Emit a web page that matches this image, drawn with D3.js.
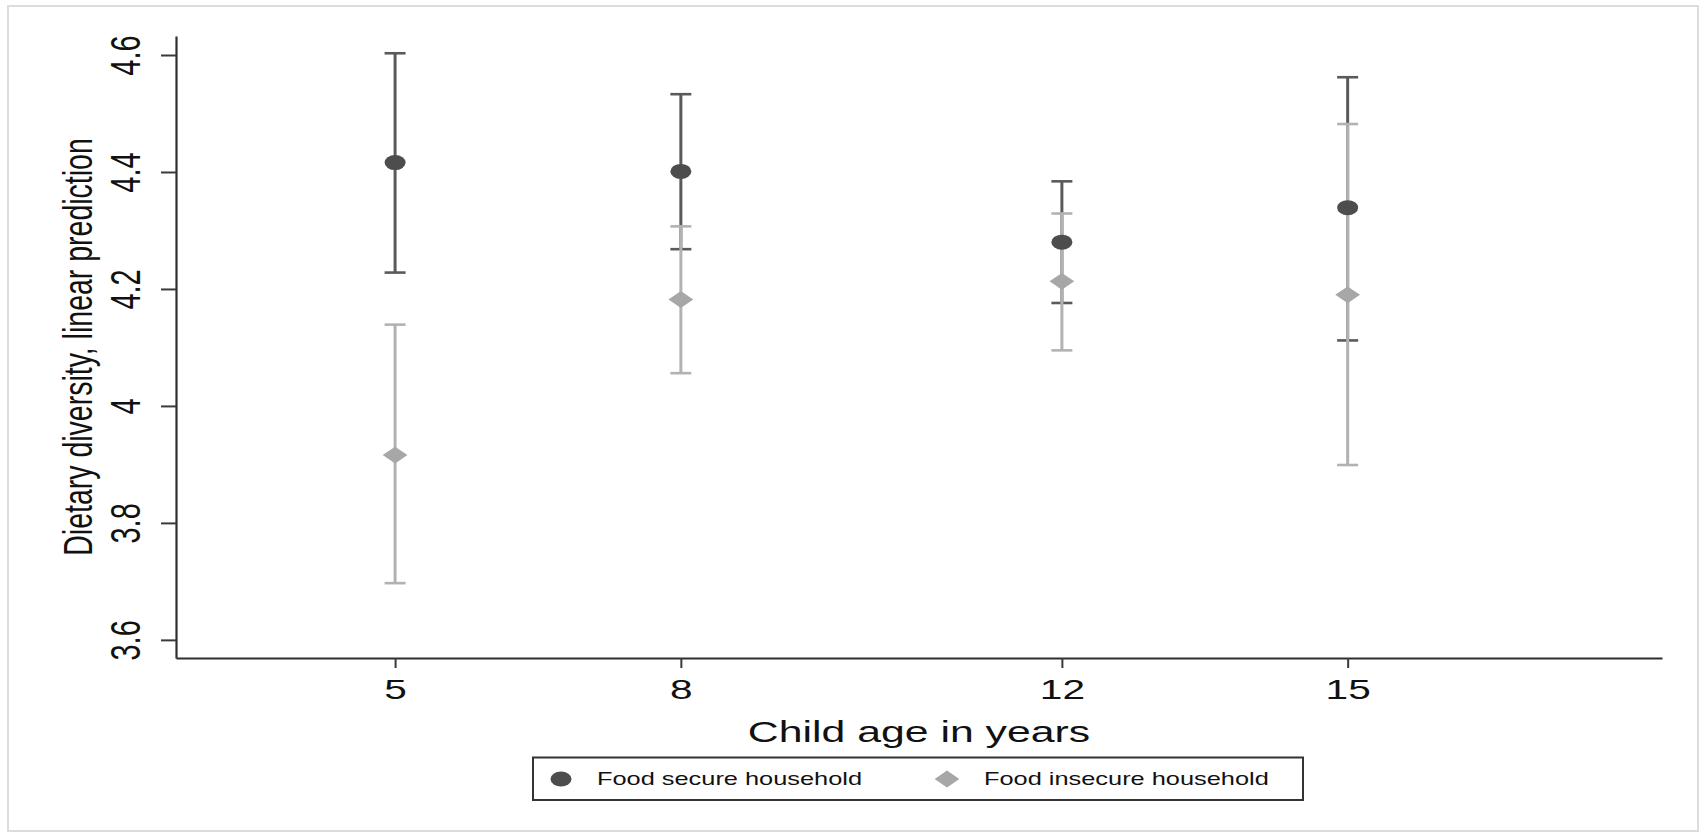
<!DOCTYPE html>
<html>
<head>
<meta charset="utf-8">
<script src="https://cdn.jsdelivr.net/npm/d3@7"></script>
<style>
  body { margin: 0; background: #fff; }
  svg { display: block; font-family: "Liberation Sans", Arial, Helvetica, sans-serif; }
  text { fill: #111; }
</style>
</head>
<body>
<svg width="1701" height="835"></svg>
<script>
// child age groups and predicted dietary diversity (with 95% CI)
var ages = [5, 8, 12, 15];
var secureMean = [4.416, 4.401, 4.280, 4.339];
var secureLow = [4.228, 4.268, 4.176, 4.112];
var secureHigh = [4.603, 4.533, 4.384, 4.562];
var insecureMean = [3.916, 4.182, 4.213, 4.190];
var insecureLow = [3.697, 4.056, 4.095, 3.899];
var insecureHigh = [4.139, 4.307, 4.329, 4.482];
var yTicks = [3.6, 3.8, 4, 4.2, 4.4, 4.6];
var seriesNames = ["Food secure household", "Food insecure household"];

var svg = d3.select("svg"),
    width = +svg.attr("width"),
    height = +svg.attr("height");

// the source image is stretched sideways, so text and markers are too
var SX = 1.45;

var darkLine = "#5a5a5a", darkMark = "#4d4d4d",
    lightLine = "#b2b2b2", lightMark = "#a7a7a7";

svg.append("rect")
    .attr("x", 8).attr("y", 6)
    .attr("width", width - 11).attr("height", height - 10)
    .attr("fill", "#fff")
    .attr("stroke", "#dcdcdc")
    .attr("stroke-width", 2);

var x = d3.scaleLinear().domain([2.7, 18.3]).range([176, 1662]);
var y = d3.scaleLinear().domain([3.569, 4.6325]).range([658, 36]);

var fmt = d => String(+d.toFixed(1));

function stretchedText(parent, px, py, str, size, anchor, rotate) {
    return parent.append("text")
        .attr("transform", "translate(" + px + "," + py + ") scale(" + SX + ",1)" + (rotate ? " rotate(-90)" : ""))
        .attr("text-anchor", anchor)
        .style("font-size", size + "px")
        .text(str);
}

// y axis
var yAxis = svg.append("g")
    .attr("transform", "translate(" + x.range()[0] + ",0)")
    .call(d3.axisLeft(y).tickValues(yTicks).tickFormat(fmt).tickSize(15).tickSizeOuter(0));
yAxis.select(".domain").attr("stroke", "#2e2e2e").attr("stroke-width", 2.2);
yAxis.selectAll(".tick line").attr("stroke", "#3a3a3a").attr("stroke-width", 2);
yAxis.selectAll(".tick text")
    .attr("x", null).attr("dy", null)
    .attr("transform", "translate(-36,0) scale(" + SX + ",1) rotate(-90)")
    .attr("text-anchor", "middle")
    .style("font-size", "29px")
    .style("font-family", "inherit")
    .attr("fill", "#111");

// x axis
var xAxis = svg.append("g")
    .attr("transform", "translate(0," + y.range()[0] + ")")
    .call(d3.axisBottom(x).tickValues(ages).tickFormat(d3.format("d")).tickSize(10).tickSizeOuter(0));
xAxis.select(".domain").attr("stroke", "#2e2e2e").attr("stroke-width", 2.2);
xAxis.selectAll(".tick line").attr("stroke", "#3a3a3a").attr("stroke-width", 2);
xAxis.selectAll(".tick text")
    .attr("y", 41).attr("dy", null)
    .attr("transform", "scale(" + SX + ",1)")
    .style("font-size", "28px")
    .style("font-family", "inherit")
    .attr("fill", "#111");

// axis titles
stretchedText(svg, 92, (y.range()[0] + y.range()[1]) / 2, "Dietary diversity, linear prediction", 28.5, "middle", true);
stretchedText(svg, (x.range()[0] + x.range()[1]) / 2, 742, "Child age in years", 29.5, "middle", false);

// error bars: secure first, insecure drawn over it
function errorBars(lo, hi, color) {
    var g = svg.append("g").attr("stroke", color).attr("fill", "none");
    ages.forEach(function (a, i) {
        g.append("line")
            .attr("x1", x(a)).attr("x2", x(a))
            .attr("y1", y(lo[i])).attr("y2", y(hi[i]))
            .attr("stroke-width", 3);
        [lo[i], hi[i]].forEach(function (v) {
            g.append("line")
                .attr("x1", x(a) - 10.5).attr("x2", x(a) + 10.5)
                .attr("y1", y(v)).attr("y2", y(v))
                .attr("stroke-width", 2.6);
        });
    });
}
errorBars(secureLow, secureHigh, darkLine);
errorBars(insecureLow, insecureHigh, lightLine);

var circleSym = d3.symbol(d3.symbolCircle, Math.PI * 7.5 * 7.5);
var diamondSym = d3.symbol(d3.symbolDiamond2, 2 * 9.5 * 9.5);

svg.append("g").selectAll("path")
    .data(ages)
    .enter().append("path")
    .attr("d", circleSym)
    .attr("fill", darkMark)
    .attr("transform", (d, i) => "translate(" + x(d) + "," + y(secureMean[i]) + ") scale(1.4,1)");

svg.append("g").selectAll("path")
    .data(ages)
    .enter().append("path")
    .attr("d", diamondSym)
    .attr("fill", lightMark)
    .attr("transform", (d, i) => "translate(" + x(d) + "," + y(insecureMean[i]) + ") scale(1.47,1)");

// legend
var legend = svg.append("g");
legend.append("rect")
    .attr("x", 533).attr("y", 757.5)
    .attr("width", 770).attr("height", 42.5)
    .attr("fill", "#fff")
    .attr("stroke", "#333")
    .attr("stroke-width", 2);

legend.append("path")
    .attr("d", circleSym)
    .attr("fill", darkMark)
    .attr("transform", "translate(561,779) scale(1.4,1)");
stretchedText(legend, 597, 785, seriesNames[0], 17.5, "start", false);

legend.append("path")
    .attr("d", diamondSym)
    .attr("fill", lightMark)
    .attr("transform", "translate(947,779) scale(1.47,1)");
stretchedText(legend, 984, 785, seriesNames[1], 17.5, "start", false);
</script>
</body>
</html>
